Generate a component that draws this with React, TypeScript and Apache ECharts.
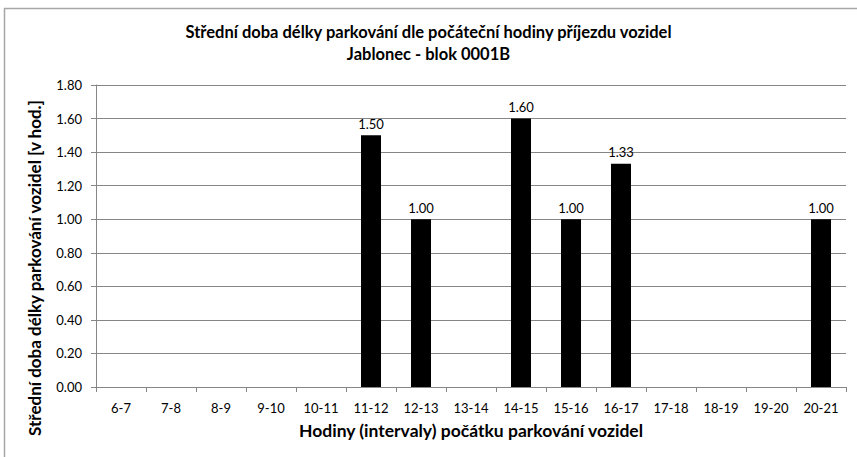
import React, { useEffect, useRef } from "react";
import * as echarts from "echarts";

const categories = ["6-7", "7-8", "8-9", "9-10", "10-11", "11-12", "12-13", "13-14", "14-15", "15-16", "16-17", "17-18", "18-19", "19-20", "20-21"];
const values: (number | null)[] = [null, null, null, null, null, 1.5, 1.0, null, 1.6, 1.0, 1.33, null, null, null, 1.0];
const titleLines = ["Střední doba délky parkování dle počáteční hodiny příjezdu vozidel", "Jablonec - blok 0001B"];
const xName = "Hodiny (intervaly) počátku parkování vozidel";
const yName = "Střední doba délky parkování vozidel [v hod.]";

const FONT = "Lato, 'Liberation Sans', Arial, sans-serif";

export default function App() {
  const ref = useRef<HTMLDivElement>(null);
  useEffect(() => {
    if (!ref.current) return;
    const chart = echarts.init(ref.current, null, { renderer: "svg" });
    chart.setOption({
      animation: false,
      backgroundColor: "#ffffff",
      graphic: [
        {
          type: "rect",
          shape: { x: 4.5, y: 8.5, width: 860, height: 460 },
          style: { fill: "none", stroke: "#a6a6a6", lineWidth: 1.5 },
          silent: true,
        },
        {
          type: "text",
          x: 34,
          y: 268,
          rotation: Math.PI / 2,
          style: {
            text: yName,
            fontFamily: FONT,
            fontSize: 17,
            fontWeight: "bold",
            fill: "#000",
            align: "center",
            verticalAlign: "middle",
          },
          silent: true,
        },
      ],
      title: {
        text: titleLines.join("\n"),
        left: "center",
        top: 16,
        textStyle: { fontFamily: FONT, fontSize: 16.5, fontWeight: "bold", color: "#000", lineHeight: 22 },
      },
      grid: { left: 96, right: 11, top: 85, bottom: 70 },
      xAxis: {
        type: "category",
        data: categories,
        name: xName,
        nameLocation: "middle",
        nameGap: 34,
        nameTextStyle: { fontFamily: FONT, fontSize: 17.5, fontWeight: "bold", color: "#000" },
        axisLine: { lineStyle: { color: "#868686" } },
        axisTick: { show: true, alignWithLabel: false, length: 5, lineStyle: { color: "#868686" } },
        axisLabel: { fontFamily: FONT, fontSize: 13, color: "#000", margin: 14, interval: 0 },
      },
      yAxis: {
        type: "value",
        min: 0,
        max: 1.8,
        interval: 0.2,
        axisLine: { show: true, lineStyle: { color: "#868686" } },
        axisTick: { show: true, length: 5, lineStyle: { color: "#868686" } },
        axisLabel: { fontFamily: FONT, fontSize: 13, color: "#000", margin: 14, formatter: (v: number) => v.toFixed(2) },
        splitLine: { lineStyle: { color: "#868686" } },
      },
      series: [
        {
          type: "bar",
          data: values,
          barWidth: "40%",
          itemStyle: { color: "#000000" },
          label: {
            show: true,
            position: "top",
            distance: 5,
            fontFamily: FONT,
            fontSize: 13,
            color: "#000",
            formatter: (p: any) => (p.value == null ? "" : Number(p.value).toFixed(2)),
          },
        },
      ],
    });
    return () => chart.dispose();
  }, []);
  return <div ref={ref} style={{ position: "fixed", left: 0, top: 0, width: 857, height: 457 }} />;
}
